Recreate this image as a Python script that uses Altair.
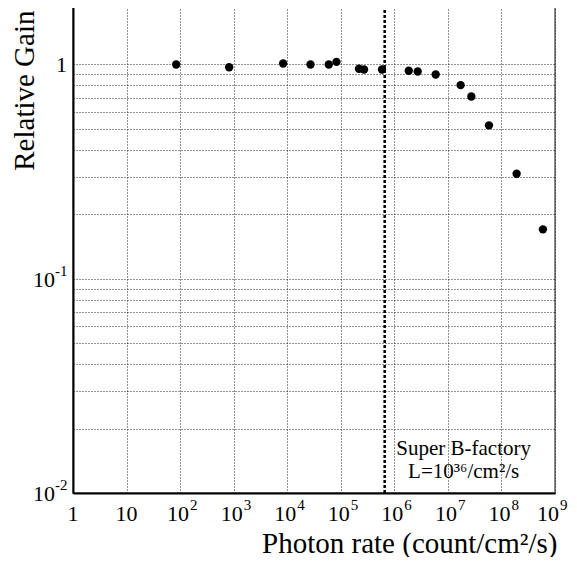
import altair as alt
import pandas as pd

# Measured data (photon rate in count/cm^2/s, relative gain)
photon_rate = [84.6, 824, 8390, 27200, 59700, 83100, 219000, 272000, 589000,
               1.86e6, 2.73e6, 5.92e6, 1.73e7, 2.74e7, 5.85e7, 1.92e8, 5.95e8]
relative_gain = [1.00, 0.971, 1.011, 1.00, 1.00, 1.029, 0.955, 0.948, 0.948,
                 0.935, 0.928, 0.898, 0.801, 0.709, 0.520, 0.309, 0.170]

# x tick labels
x_plain_ticks = [1, 10]
x_plain_labels = ["1", "10"]
x_pow_ticks = [1e2, 1e3, 1e4, 1e5, 1e6, 1e7, 1e8]
x_pow_base = ["10"] * 7
x_pow_exp = ["2", "3", "4", "5", "6", "7", "8"]
x_edge_ticks = [1e9]
x_edge_base = ["10"]
x_edge_exp = ["9"]
x_grid = [1, 10, 1e2, 1e3, 1e4, 1e5, 1e6, 1e7, 1e8, 1e9]

# y tick labels
y_plain_ticks = [1]
y_plain_labels = ["1"]
y_pow_ticks = [0.1, 0.01]
y_pow_base = ["10", "10"]
y_pow_exp = ["-1", "-2"]
y_grid = [0.01, 0.02, 0.03, 0.04, 0.05, 0.06, 0.07, 0.08, 0.09,
          0.1, 0.2, 0.3, 0.4, 0.5, 0.6, 0.7, 0.8, 0.9, 1, 2]

superB_rate = [6.6e5]
annot_x = [1.97e7, 1.97e7]
annot_y = [0.01503, 0.01175]
annot_text = ["Super B-factory", "L=10³⁶/cm²/s"]

FONT = "Liberation Serif"
LBL = 22
EXP = 15

df = pd.DataFrame({"rate": photon_rate, "gain": relative_gain})
df_line = pd.DataFrame({"rate": superB_rate})
df_txt = pd.DataFrame({"rate": annot_x, "gain": annot_y, "t": annot_text})
df_xp = pd.DataFrame({"v": x_plain_ticks, "t": x_plain_labels})
df_xe = pd.DataFrame({"v": x_pow_ticks, "b": x_pow_base, "e": x_pow_exp})
df_xz = pd.DataFrame({"v": x_edge_ticks, "b": x_edge_base, "e": x_edge_exp})
df_yp = pd.DataFrame({"v": y_plain_ticks, "t": y_plain_labels})
df_ye = pd.DataFrame({"v": y_pow_ticks, "b": y_pow_base, "e": y_pow_exp})

xscale = alt.Scale(type="log", domain=[1, 1e9], nice=False)
yscale = alt.Scale(type="log", domain=[0.01, 2], nice=False)

GRID = dict(grid=True, gridColor="#111111", gridDash=[1, 2], gridWidth=1, gridOpacity=0.9)

xaxis = alt.Axis(
    values=x_grid, labels=False,
    title="Photon rate (count/cm²/s)",
    titleFont=FONT, titleFontSize=29, titleFontWeight="normal", titleColor="black",
    titleAnchor="end", titleAlign="right", titleX=484, titleY=59, titleBaseline="alphabetic",
    ticks=False, domainColor="black", domainWidth=2, **GRID,
)
yaxis = alt.Axis(
    values=y_grid, labels=False,
    title="Relative Gain",
    titleFont=FONT, titleFontSize=29, titleFontWeight="normal", titleColor="black",
    titleAnchor="end", titleAlign="right", titleAngle=270, titleX=-40, titleY=10,
    titleBaseline="alphabetic",
    ticks=False, domainColor="black", domainWidth=2, **GRID,
)

points = alt.Chart(df).mark_circle(size=70, color="black", opacity=1).encode(
    x=alt.X("rate:Q", scale=xscale, axis=xaxis),
    y=alt.Y("gain:Q", scale=yscale, axis=yaxis),
)

vline = alt.Chart(df_line).mark_rule(color="black", strokeWidth=2.5, strokeDash=[3, 2]).encode(
    x=alt.X("rate:Q", scale=xscale),
)

txt = alt.Chart(df_txt).mark_text(
    font=FONT, fontSize=21, color="black", align="center", baseline="alphabetic",
).encode(
    x=alt.X("rate:Q", scale=xscale),
    y=alt.Y("gain:Q", scale=yscale),
    text="t:N",
)

# x axis labels
xl_plain = alt.Chart(df_xp).mark_text(
    font=FONT, fontSize=LBL, color="black", align="center", baseline="alphabetic", dy=28,
).encode(x=alt.X("v:Q", scale=xscale), y=alt.datum(0.01), text="t:N")
xl_base = alt.Chart(df_xe).mark_text(
    font=FONT, fontSize=LBL, color="black", align="right", baseline="alphabetic", dx=9, dy=28,
).encode(x=alt.X("v:Q", scale=xscale), y=alt.datum(0.01), text="b:N")
xl_exp = alt.Chart(df_xe).mark_text(
    font=FONT, fontSize=EXP, color="black", align="left", baseline="alphabetic", dx=10, dy=17,
).encode(x=alt.X("v:Q", scale=xscale), y=alt.datum(0.01), text="e:N")
xl_zbase = alt.Chart(df_xz).mark_text(
    font=FONT, fontSize=LBL, color="black", align="right", baseline="alphabetic", dx=4, dy=28,
).encode(x=alt.X("v:Q", scale=xscale), y=alt.datum(0.01), text="b:N")
xl_zexp = alt.Chart(df_xz).mark_text(
    font=FONT, fontSize=EXP, color="black", align="left", baseline="alphabetic", dx=5, dy=17,
).encode(x=alt.X("v:Q", scale=xscale), y=alt.datum(0.01), text="e:N")

# y axis labels
yl_plain = alt.Chart(df_yp).mark_text(
    font=FONT, fontSize=LBL, color="black", align="right", baseline="alphabetic", dx=-6, dy=8,
).encode(x=alt.datum(1), y=alt.Y("v:Q", scale=yscale), text="t:N")
yl_base = alt.Chart(df_ye).mark_text(
    font=FONT, fontSize=LBL, color="black", align="right", baseline="alphabetic", dx=-18, dy=8,
).encode(x=alt.datum(1), y=alt.Y("v:Q", scale=yscale), text="b:N")
yl_exp = alt.Chart(df_ye).mark_text(
    font=FONT, fontSize=EXP, color="black", align="left", baseline="alphabetic", dx=-18, dy=-3,
).encode(x=alt.datum(1), y=alt.Y("v:Q", scale=yscale), text="e:N")

chart = alt.layer(vline, points, txt, xl_plain, xl_base, xl_exp, xl_zbase, xl_zexp,
                  yl_plain, yl_base, yl_exp).properties(
    width=482, height=493,
    autosize=alt.AutoSizeParams(type="none"),
    padding={"left": 65, "top": -8, "right": 14, "bottom": 64},
    background="white",
).configure_view(stroke="#888888", strokeWidth=2)

chart.save("out.html", embed_options={"renderer": "svg", "actions": False})
